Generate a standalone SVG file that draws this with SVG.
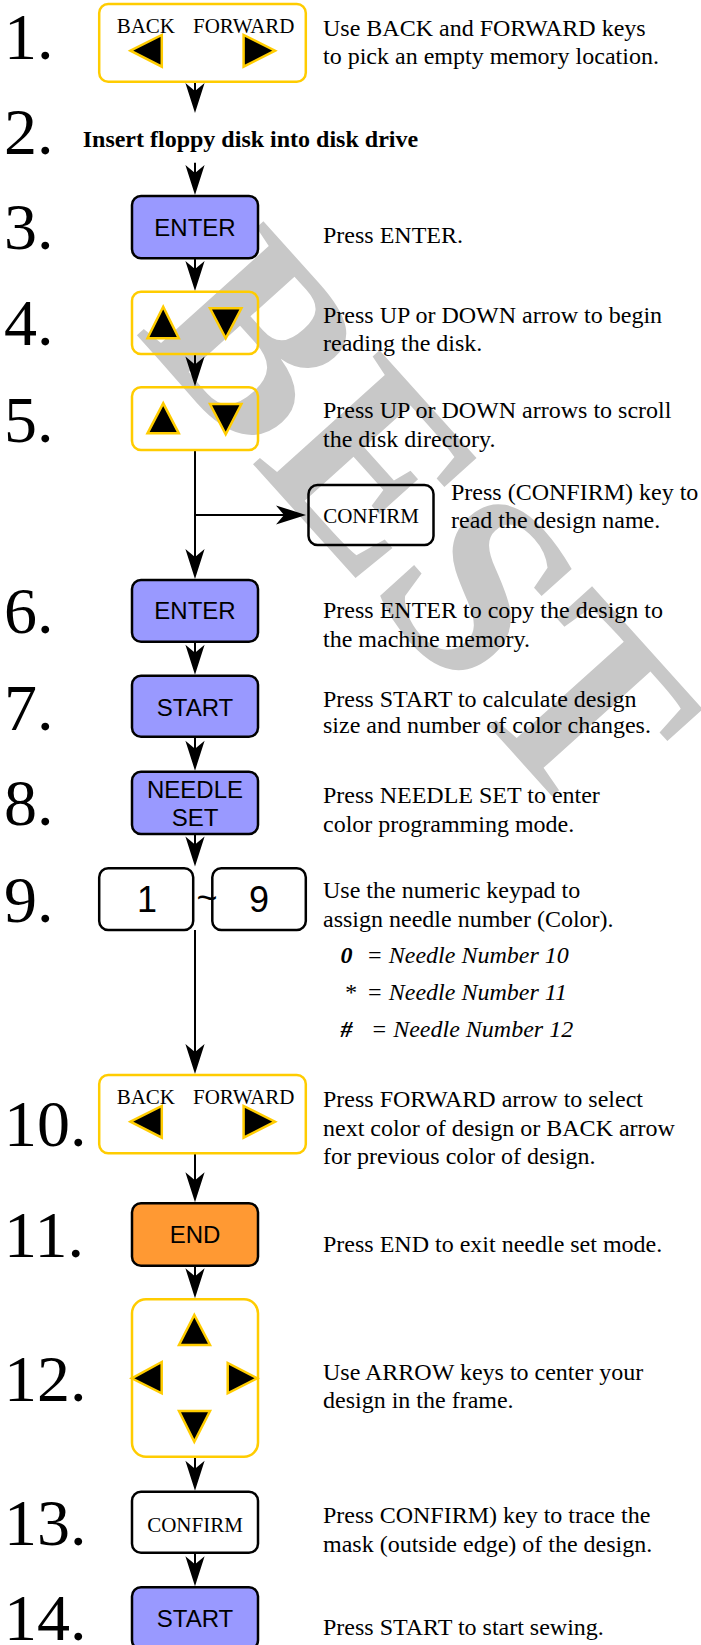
<svg xmlns="http://www.w3.org/2000/svg" width="701" height="1645" viewBox="0 0 701 1645">
<style>
.num{font-family:"Liberation Serif",serif;font-size:66px;fill:#000}
.d{font-family:"Liberation Serif",serif;font-size:24px;fill:#000}
.k{font-family:"Liberation Sans",Arial,sans-serif;font-size:24px;fill:#000;text-anchor:middle}
.big{font-family:"Liberation Sans",Arial,sans-serif;font-size:36px;fill:#000;text-anchor:middle}
.kt{font-family:"Liberation Serif",serif;font-size:21px;fill:#000}
.yb{fill:none;stroke:#FFCC00;stroke-width:2.5}
.pb{fill:#9999FF;stroke:#000;stroke-width:2.5}
.ob{fill:#FF9933;stroke:#000;stroke-width:2.5}
.wb{fill:none;stroke:#000;stroke-width:2.5}
.tri{fill:#000;stroke:#FFCC00;stroke-width:2.5;stroke-linejoin:miter}
.ln{fill:none;stroke:#000;stroke-width:2}
.wm{font-family:"Liberation Serif",serif;font-size:260px;font-weight:bold;fill:#C8C8C8}
</style>
<defs>
<marker id="ah" markerUnits="userSpaceOnUse" markerWidth="32" markerHeight="22" viewBox="-31 -11 32 22" refX="-10" refY="0" orient="auto">
<path d="M0,0 L-30,-9.6 L-22,0 L-30,9.6 Z" fill="#000"/>
</marker>
</defs>
<rect width="701" height="1645" fill="#fff"/>
<g id="watermark">
<text class="wm" transform="translate(134,332) rotate(48)">BEST</text>
</g>
<g id="connectors">
<path class="ln" d="M195,81.7 V103" marker-end="url(#ah)"/>
<path class="ln" d="M195,162.7 V185" marker-end="url(#ah)"/>
<path class="ln" d="M195,258.3 V281" marker-end="url(#ah)"/>
<path class="ln" d="M195,354 V376.5" marker-end="url(#ah)"/>
<path class="ln" d="M195,450 V569"/>
<path class="ln" d="M195,560 V569" marker-end="url(#ah)"/>
<path class="ln" d="M195,515 H296" marker-end="url(#ah)"/>
<path class="ln" d="M195,641.7 V664.7" marker-end="url(#ah)"/>
<path class="ln" d="M195,736.7 V760.7" marker-end="url(#ah)"/>
<path class="ln" d="M195,834 V856.5" marker-end="url(#ah)"/>
<path class="ln" d="M195,930 V1064" marker-end="url(#ah)"/>
<path class="ln" d="M195,1153.3 V1192.3" marker-end="url(#ah)"/>
<path class="ln" d="M195,1265.7 V1288.3" marker-end="url(#ah)"/>
<path class="ln" d="M195,1456.7 V1480.7" marker-end="url(#ah)"/>
<path class="ln" d="M195,1552.7 V1576.3" marker-end="url(#ah)"/>
</g>
<g id="step1">
<text class="num" x="4" y="59.3">1.</text>
<rect class="yb" x="99.2" y="4" width="206.6" height="77.7" rx="9"/>
<text class="kt" x="116.7" y="33.3">BACK</text>
<text class="kt" x="193" y="33.3">FORWARD</text>
<polygon class="tri" points="130.5,50.7 161.8,35 161.8,66.7"/>
<polygon class="tri" points="243.6,35 243.6,66.7 275,50.7"/>
<text class="d" x="323" y="36">Use BACK and FORWARD keys</text>
<text class="d" x="323" y="64">to pick an empty memory location.</text>
</g>
<g id="step2">
<text class="num" x="4" y="154">2.</text>
<text class="d" x="82.7" y="147.3" font-weight="bold">Insert floppy disk into disk drive</text>
</g>
<g id="step3">
<text class="num" x="4" y="249.3">3.</text>
<rect class="pb" x="132" y="196" width="126" height="62.3" rx="9"/>
<text class="k" x="195" y="235.7">ENTER</text>
<text class="d" x="323" y="242.7">Press ENTER.</text>
</g>
<g id="step4">
<text class="num" x="4" y="345">4.</text>
<rect class="yb" x="132" y="291.7" width="126" height="62.3" rx="9"/>
<polygon class="tri" points="163.2,306.7 147.5,338.3 178.8,338.3"/>
<polygon class="tri" points="210,308.3 241.4,308.3 225.7,338.3"/>
<text class="d" x="323" y="322.7">Press UP or DOWN arrow to begin</text>
<text class="d" x="323" y="350.7">reading the disk.</text>
</g>
<g id="step5">
<text class="num" x="4" y="441.7">5.</text>
<rect class="yb" x="132" y="387.3" width="126" height="62.7" rx="9"/>
<polygon class="tri" points="163.2,403.3 147.5,433.3 178.8,433.3"/>
<polygon class="tri" points="210,404 241.4,404 225.7,434.3"/>
<text class="d" x="323" y="418.3">Press UP or DOWN arrows to scroll</text>
<text class="d" x="323" y="446.7">the disk directory.</text>
</g>
<g id="confirm-branch">
<rect class="wb" x="308.5" y="485" width="125" height="60" rx="9"/>
<text class="kt" x="371" y="523.3" text-anchor="middle">CONFIRM</text>
<text class="d" x="451" y="500">Press (CONFIRM) key to</text>
<text class="d" x="451" y="528">read the design name.</text>
</g>
<g id="step6">
<text class="num" x="4" y="633.3">6.</text>
<rect class="pb" x="132" y="580" width="126" height="61.7" rx="9"/>
<text class="k" x="195" y="619.3">ENTER</text>
<text class="d" x="323" y="618.3">Press ENTER to copy the design to</text>
<text class="d" x="323" y="646.7">the machine memory.</text>
</g>
<g id="step7">
<text class="num" x="4" y="730">7.</text>
<rect class="pb" x="132" y="675.7" width="126" height="61" rx="9"/>
<text class="k" x="195" y="716">START</text>
<text class="d" x="323" y="706.7">Press START to calculate design</text>
<text class="d" x="323" y="733.3">size and number of color changes.</text>
</g>
<g id="step8">
<text class="num" x="4" y="825">8.</text>
<rect class="pb" x="132" y="771.7" width="126" height="62.3" rx="9"/>
<text class="k" x="195" y="797.7">NEEDLE</text>
<text class="k" x="195" y="826">SET</text>
<text class="d" x="323" y="803.3">Press NEEDLE SET to enter</text>
<text class="d" x="323" y="831.7">color programming mode.</text>
</g>
<g id="step9">
<text class="num" x="4" y="921.7">9.</text>
<rect class="wb" x="99.2" y="868.3" width="94" height="61.7" rx="9"/>
<rect class="wb" x="212.3" y="868.3" width="93.5" height="61.7" rx="9"/>
<text class="big" x="147" y="912">1</text>
<text class="big" x="259" y="912">9</text>
<text class="big" x="207" y="910">~</text>
<text class="d" x="323" y="898.3">Use the numeric keypad to</text>
<text class="d" x="323" y="926.7">assign needle number (Color).</text>
<text class="d" x="340.6" y="963.3" font-style="italic" font-weight="bold">0</text>
<text class="d" x="366.6" y="963.3" font-style="italic">= Needle Number 10</text>
<text class="d" x="344" y="1000" font-style="italic">*</text>
<text class="d" x="366.6" y="1000" font-style="italic">= Needle Number 11</text>
<text class="d" x="340.6" y="1036.7" font-style="italic" font-weight="bold">#</text>
<text class="d" x="371" y="1036.7" font-style="italic">= Needle Number 12</text>
</g>
<g id="step10">
<text class="num" x="4" y="1146">10.</text>
<rect class="yb" x="99.2" y="1075" width="206.6" height="78.3" rx="9"/>
<text class="kt" x="116.7" y="1104.3">BACK</text>
<text class="kt" x="193" y="1104.3">FORWARD</text>
<polygon class="tri" points="130.5,1121.7 161.8,1106 161.8,1137.7"/>
<polygon class="tri" points="243.6,1106 243.6,1137.7 275,1121.7"/>
<text class="d" x="323" y="1106.7">Press FORWARD arrow to select</text>
<text class="d" x="323" y="1136">next color of design or BACK arrow</text>
<text class="d" x="323" y="1164">for previous color of design.</text>
</g>
<g id="step11">
<text class="num" x="4" y="1257.3">11.</text>
<rect class="ob" x="132" y="1203.3" width="126" height="62.4" rx="9"/>
<text class="k" x="195" y="1242.7">END</text>
<text class="d" x="323" y="1251.7">Press END to exit needle set mode.</text>
</g>
<g id="step12">
<text class="num" x="4" y="1400.7">12.</text>
<rect class="yb" x="132" y="1299.3" width="126" height="157.4" rx="14"/>
<polygon class="tri" points="194.3,1315 179,1345 210,1345"/>
<polygon class="tri" points="131.7,1378.3 161.7,1362 161.7,1393.3"/>
<polygon class="tri" points="257.3,1378.3 227.7,1363 227.7,1393.3"/>
<polygon class="tri" points="179,1411 210,1411 194.3,1441.7"/>
<text class="d" x="323" y="1380">Use ARROW keys to center your</text>
<text class="d" x="323" y="1408.3">design in the frame.</text>
</g>
<g id="step13">
<text class="num" x="4" y="1545">13.</text>
<rect class="wb" x="132" y="1491.7" width="126" height="61" rx="9"/>
<text class="kt" x="195" y="1531.7" text-anchor="middle">CONFIRM</text>
<text class="d" x="323" y="1523.3">Press CONFIRM) key to trace the</text>
<text class="d" x="323" y="1551.7">mask (outside edge) of the design.</text>
</g>
<g id="step14">
<text class="num" x="4" y="1640">14.</text>
<rect class="pb" x="132" y="1587.3" width="126" height="62" rx="9"/>
<text class="k" x="195" y="1626.7">START</text>
<text class="d" x="323" y="1635">Press START to start sewing.</text>
</g>
</svg>
